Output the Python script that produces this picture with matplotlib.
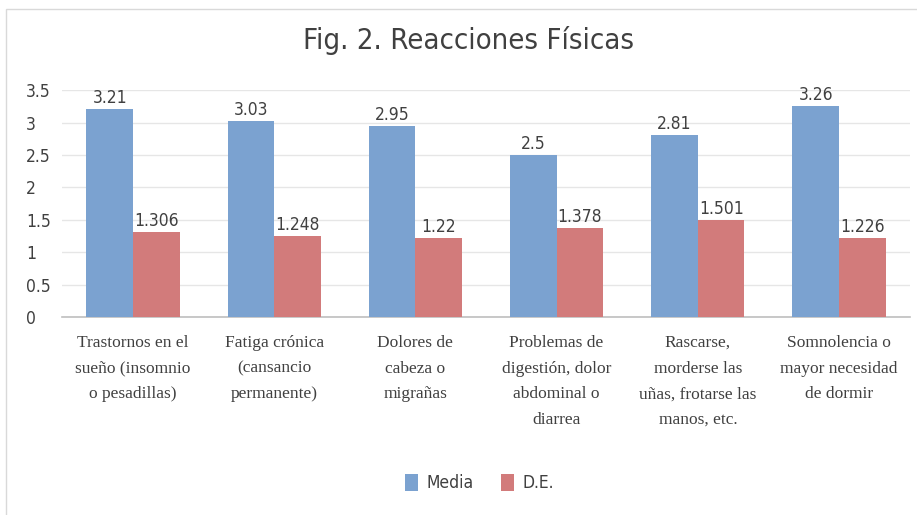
import numpy as np
import matplotlib
matplotlib.use("Agg")
import matplotlib.pyplot as plt
from matplotlib.patches import Rectangle

categories = [
    "Trastornos en el\nsueño (insomnio\no pesadillas)",
    "Fatiga crónica\n(cansancio\npermanente)",
    "Dolores de\ncabeza o\nmigrañas",
    "Problemas de\ndigestión, dolor\nabdominal o\ndiarrea",
    "Rascarse,\nmorderse las\nuñas, frotarse las\nmanos, etc.",
    "Somnolencia o\nmayor necesidad\nde dormir",
]
media = [3.21, 3.03, 2.95, 2.5, 2.81, 3.26]
de = [1.306, 1.248, 1.22, 1.378, 1.501, 1.226]
media_labels = ["3.21", "3.03", "2.95", "2.5", "2.81", "3.26"]
de_labels = ["1.306", "1.248", "1.22", "1.378", "1.501", "1.226"]
yticks = [0, 0.5, 1, 1.5, 2, 2.5, 3, 3.5]
ytick_labels = ["0", "0.5", "1", "1.5", "2", "2.5", "3", "3.5"]

blue = "#7BA2D0"
red = "#D27B7B"
txt = "#404040"
narrow = dict(family="DejaVu Sans", stretch="condensed")
serif = dict(family="Liberation Serif")

fig = plt.figure(figsize=(9.17, 5.15), dpi=100)
# chart frame
fig.patches.append(Rectangle((0.006, -0.01), 1.0, 0.992, transform=fig.transFigure,
                             fill=False, edgecolor="#d9d9d9", linewidth=1.0))
ax = fig.add_axes([0.068, 0.3845, 0.924, 0.4405])

x = np.arange(len(categories))
w = 0.33
b1 = ax.bar(x - w / 2, media, w, color=blue, label="Media", zorder=3)
b2 = ax.bar(x + w / 2, de, w, color=red, label="D.E.", zorder=3)

for rect, lab in zip(b1, media_labels):
    ax.text(rect.get_x() + rect.get_width() / 2, rect.get_height() + 0.03, lab,
            ha="center", va="bottom", fontsize=12.5, color=txt, **narrow)
for rect, lab in zip(b2, de_labels):
    ax.text(rect.get_x() + rect.get_width() / 2, rect.get_height() + 0.03, lab,
            ha="center", va="bottom", fontsize=12.5, color=txt, **narrow)

ax.set_ylim(0, 3.5)
ax.set_xlim(-0.5, len(categories) - 0.5)
ax.set_yticks(yticks)
ax.set_yticklabels(ytick_labels, fontsize=12.5, color=txt, **narrow)
ax.set_xticks(x)
ax.set_xticklabels(categories, fontsize=12.5, color=txt, linespacing=1.8, **serif)
ax.tick_params(axis="both", length=0)
ax.tick_params(axis="x", pad=13)
ax.tick_params(axis="y", pad=26)
for lbl in ax.get_yticklabels():
    lbl.set_horizontalalignment("left")
ax.grid(axis="y", color="#e6e6e6", linewidth=1, zorder=0)
for s in ["top", "right", "left"]:
    ax.spines[s].set_visible(False)
ax.spines["bottom"].set_color("#bfbfbf")
ax.spines["bottom"].set_linewidth(1.2)

fig.text(0.511, 0.922, "Fig. 2. Reacciones Físicas", ha="center", va="center",
         fontsize=21, color=txt, **narrow)

leg = fig.legend(handles=[b1, b2], labels=["Media", "D.E."], loc="center",
                 bbox_to_anchor=(0.523, 0.062), ncol=2, frameon=False,
                 prop=dict(size=12.5, **narrow), handlelength=0.75,
                 handleheight=1.1, columnspacing=1.6, handletextpad=0.5)
for t in leg.get_texts():
    t.set_color(txt)

fig.savefig("out.png", dpi=100, facecolor="white")
